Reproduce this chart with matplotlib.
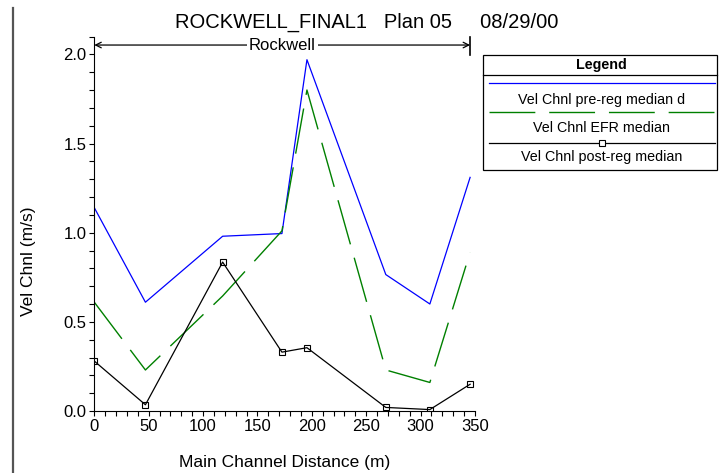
import numpy as np
import matplotlib
matplotlib.use('Agg')
import matplotlib.pyplot as plt
from matplotlib.lines import Line2D
from matplotlib.patches import Rectangle
from matplotlib.ticker import MultipleLocator, FormatStrFormatter

plt.rcParams['font.family'] = ['Liberation Sans', 'DejaVu Sans']

# stations along the main channel (m)
dist = [0, 47, 118, 172.5, 195.5, 268, 308.5, 345.5]
# velocities (m/s)
vel_pre = [1.14, 0.61, 0.98, 0.995, 1.97, 0.765, 0.60, 1.31]
vel_efr = [0.61, 0.23, 0.645, 1.01, 1.80, 0.23, 0.16, 0.89]
vel_post = [0.28, 0.035, 0.835, 0.33, 0.355, 0.02, 0.008, 0.15]

series_labels = ['Vel Chnl pre-reg median d', 'Vel Chnl EFR median', 'Vel Chnl post-reg median']
reach_name = 'Rockwell'
title = 'ROCKWELL_FINAL1   Plan 05     08/29/00'

W, H = 719, 473
fig = plt.figure(figsize=(W / 100, H / 100), dpi=100)


def fx(px):
    return px / W


def fy(py):
    return 1 - py / H


ax = fig.add_axes([fx(94.3), fy(411), fx(475) - fx(94.3), fy(36.5) - fy(411)])

ax.plot(dist, vel_pre, color='#0000ff', lw=0.9)
ax.plot(dist, vel_efr, color='#008000', lw=1.0, dashes=(33, 10))
ax.plot(dist, vel_post, color='black', lw=0.9, marker='s', markersize=4.5,
        markerfacecolor='none', markeredgecolor='black', markeredgewidth=0.8)

ax.set_xlim(0, 350)
ax.set_ylim(0, 2.1)
ax.spines['top'].set_visible(False)
ax.spines['right'].set_visible(False)
ax.xaxis.set_major_locator(MultipleLocator(50))
ax.xaxis.set_minor_locator(MultipleLocator(10))
ax.yaxis.set_major_locator(MultipleLocator(0.5))
ax.yaxis.set_minor_locator(MultipleLocator(0.1))
ax.yaxis.set_major_formatter(FormatStrFormatter('%.1f'))
ax.tick_params(which='both', direction='out', length=3.5, width=0.8, labelsize=12, pad=2)

fig.text(fx(285), fy(462), 'Main Channel Distance (m)', ha='center', va='center', fontsize=12.5)
fig.text(fx(28), fy(261), 'Vel Chnl (m/s)', ha='center', va='center', rotation=90, fontsize=12.5)
fig.text(fx(367), fy(22), title, ha='center', va='center', fontsize=14.5)

# reach arrow
y_arrow = (411 - 45) / 178.35
ax.annotate('', xy=(0, y_arrow), xytext=(dist[-1], y_arrow),
            arrowprops=dict(arrowstyle='<->', color='black', lw=0.9, shrinkA=0, shrinkB=0),
            annotation_clip=False)
ax.plot([dist[-1], dist[-1]], [(411 - 37) / 178.35, (411 - 55) / 178.35],
        color='black', lw=1.2, clip_on=False)
ax.text(dist[-1] / 2, y_arrow, reach_name, ha='center', va='center', fontsize=12,
        bbox=dict(facecolor='white', edgecolor='none', pad=1.5), clip_on=False)

# page border line at left
fig.add_artist(Line2D([fx(12.7), fx(12.7)], [fy(8), fy(473)], color='#555555', lw=1.6))

# legend box
lx0, lx1, ly0, ly1 = 482.7, 716.7, 55, 170
fig.add_artist(Rectangle((fx(lx0), fy(ly1)), fx(lx1) - fx(lx0), fy(ly0) - fy(ly1),
                         transform=fig.transFigure, facecolor='white', edgecolor='black', lw=0.9))
fig.add_artist(Line2D([fx(lx0), fx(lx1)], [fy(75.3), fy(75.3)], color='black', lw=0.9))
fig.text(fx(601.5), fy(65), 'Legend', ha='center', va='center', fontsize=10.3, fontweight='bold')
sx0, sx1 = 489, 715
fig.add_artist(Line2D([fx(sx0), fx(sx1)], [fy(83.3), fy(83.3)], color='#0000ff', lw=0.9))
fig.text(fx(601.5), fy(100), series_labels[0], ha='center', va='center', fontsize=10.3)
fig.add_artist(Line2D([fx(sx0), fx(sx1)], [fy(112), fy(112)], color='#008000', lw=1.0, dashes=(33, 10)))
fig.text(fx(601.5), fy(127.7), series_labels[1], ha='center', va='center', fontsize=10.3)
fig.add_artist(Line2D([fx(sx0), fx(sx1)], [fy(142.7), fy(142.7)], color='black', lw=0.9))
fig.add_artist(Line2D([fx(601.5)], [fy(142.7)], marker='s', markersize=4.5,
                      markerfacecolor='white', markeredgecolor='black', markeredgewidth=0.8))
fig.text(fx(601.5), fy(156.7), series_labels[2], ha='center', va='center', fontsize=10.3)

fig.savefig('out.png', dpi=100)
